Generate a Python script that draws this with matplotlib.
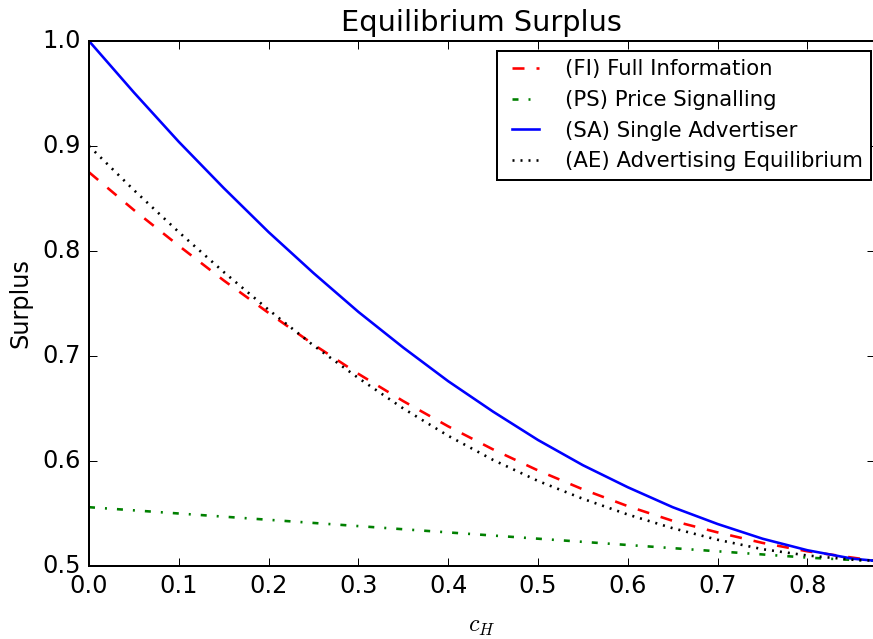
import numpy as np
import matplotlib
matplotlib.use("Agg")
import matplotlib.pyplot as plt

# cost of the high type, c_H
c_h = [0.0, 0.05, 0.1, 0.15, 0.2, 0.25, 0.3, 0.35, 0.4, 0.45,
       0.5, 0.55, 0.6, 0.65, 0.7, 0.75, 0.8, 0.85, 0.875]

# surplus under each regime
full_info = [0.875, 0.839, 0.805, 0.772, 0.741, 0.711, 0.683, 0.657, 0.633, 0.611,
             0.591, 0.573, 0.557, 0.543, 0.532, 0.522, 0.514, 0.508, 0.505]
price_signal = [0.556, 0.553, 0.550, 0.547, 0.544, 0.541, 0.538, 0.535, 0.532, 0.529,
                0.526, 0.523, 0.520, 0.517, 0.514, 0.511, 0.508, 0.5058, 0.505]
single_adv = [1.0, 0.951, 0.904, 0.860, 0.818, 0.779, 0.742, 0.708, 0.676, 0.647,
              0.620, 0.596, 0.575, 0.556, 0.540, 0.526, 0.515, 0.507, 0.505]
adv_eq = [0.900, 0.858, 0.818, 0.780, 0.744, 0.710, 0.679, 0.650, 0.624, 0.601,
          0.581, 0.564, 0.549, 0.536, 0.525, 0.516, 0.510, 0.506, 0.505]

plt.style.use("classic")

W, H = 873, 639
fig = plt.figure(figsize=(W / 144, H / 144), dpi=144)
ax = fig.add_axes([89 / W, 1 - 566 / H, 785.75 / W, 525 / H])

lw = 1.3
ax.plot(c_h, full_info, "r--", lw=lw, label="(FI) Full Information")
ax.plot(c_h, price_signal, "g-.", lw=lw, label="(PS) Price Signalling")
ax.plot(c_h, single_adv, "b-", lw=lw, label="(SA) Single Advertiser")
ax.plot(c_h, adv_eq, "k:", lw=lw, label="(AE) Advertising Equilibrium")

ax.set_xlim(0, 0.875)
ax.set_ylim(0.5, 1.0)
ax.set_xticks(np.arange(0, 0.85, 0.1))
ax.set_yticks(np.arange(0.5, 1.01, 0.1))

ax.set_title("Equilibrium Surplus")
ax.set_xlabel("$c_H$", labelpad=8)
ax.set_ylabel("Surplus")

ax.legend(loc="upper right", bbox_to_anchor=(871 / W, 1 - 51 / H),
          bbox_transform=fig.transFigure, borderaxespad=0,
          fontsize=10.6, handlelength=1.9, handletextpad=0.9)

fig.savefig("out.png", dpi=144)
